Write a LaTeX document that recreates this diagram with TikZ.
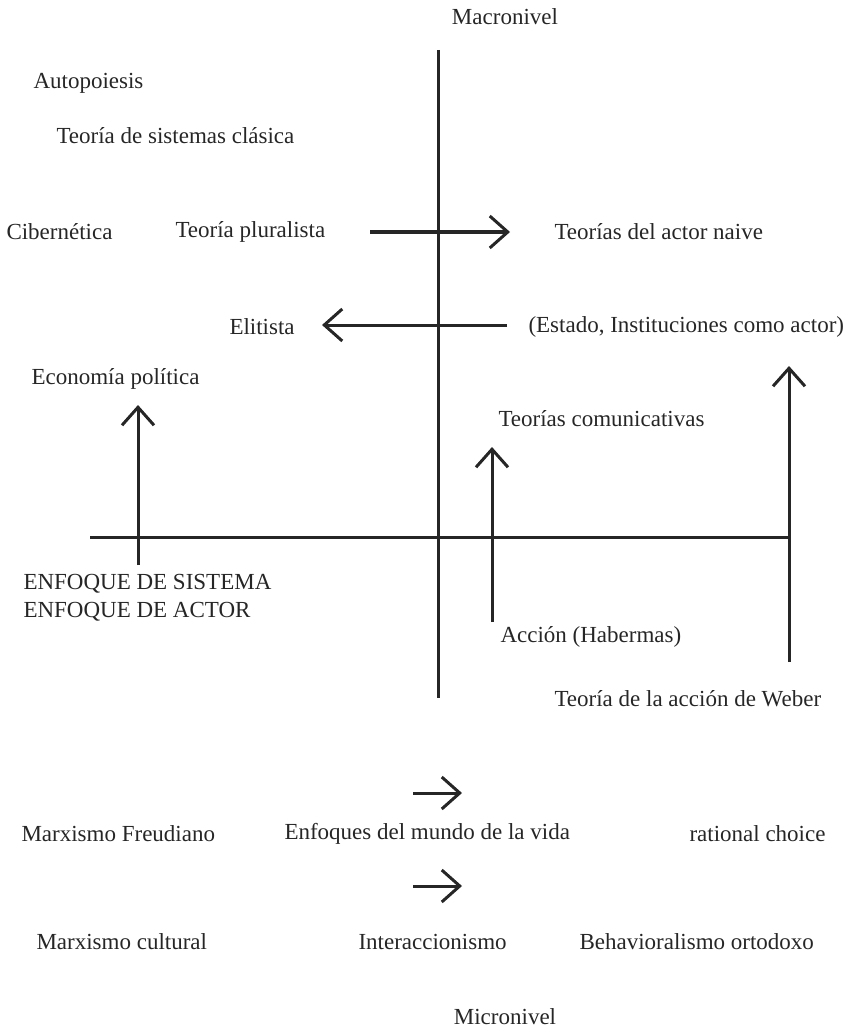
\documentclass[tikz,border=0pt]{standalone}
\usepackage{fontspec}
\setmainfont{Liberation Serif}
\usetikzlibrary{arrows.meta}
\begin{document}
\begin{tikzpicture}[x=1pt, y=-1pt, line width=3pt, color={black!85},
  label node/.style={anchor=west,inner sep=0pt,font=\fontsize{23}{27}\selectfont},
  mid node/.style={label node,anchor=center},
  arrow line/.style={-{Straight Barb[length=18pt,width=32pt]}}]
\useasboundingbox (0,0) rectangle (855,1032);
% axes
\coordinate (ntop) at (438,50);
\coordinate (nbot) at (438,698);
\coordinate (wleft) at (90,537);
\coordinate (wright) at (791,537);
\draw (ntop) -- (nbot);
\draw (wleft) -- (wright);
\begin{scope}[every node/.style={label node}]
\node [mid node](macro) at (505,17) {Macronivel};
\node (autop) at (32,83) {Autopoiesis};
\node (clasica) at (55,136) {Teoría de sistemas clásica};
\node (ciber) at (5,232) {Cibernética};
\node (plural) at (174,232) {Teoría pluralista};
\node (naive) at (553,232) {Teorías del actor naive};
\node (elit) at (228,327) {Elitista};
\node (estado) at (527,327) {(Estado, Instituciones como actor)};
\node (econ) at (30,379) {Economía política};
\node (comun) at (497,419) {Teorías comunicativas};
\node (sist) at (22,584) {ENFOQUE DE SISTEMA};
\node (actor) at (22,612) {ENFOQUE DE ACTOR};
\node (haber) at (499,637) {Acción (Habermas)};
\node (weber) at (553,699) {Teoría de la acción de Weber};
\node (freud) at (20,834) {Marxismo Freudiano};
\node (mundo) at (283,834) {Enfoques del mundo de la vida};
\node (rational) at (688,834) {rational choice};
\node (cultural) at (35,942) {Marxismo cultural};
\node (inter) at (357,942) {Interaccionismo};
\node (behav) at (578,942) {Behavioralismo ortodoxo};
\node [mid node](micro) at (505,1017) {Micronivel};
\end{scope}
% arrows
\coordinate (a1s) at (370,232);
\coordinate (a1e) at (510,232);
\coordinate (a2s) at (507,325);
\coordinate (a2e) at (322,325);
\coordinate (a3s) at (138,565);
\coordinate (a3e) at (138,405);
\coordinate (a4s) at (492,622);
\coordinate (a4e) at (492,447);
\coordinate (a5s) at (789,662);
\coordinate (a5e) at (789,366);
\coordinate (a6s) at (413,793);
\coordinate (a6e) at (462,793);
\coordinate (a7s) at (413,886);
\coordinate (a7e) at (462,886);
\path [arrow line]
  (a1s) edge (a1e)
  (a2s) edge (a2e)
  (a3s) edge (a3e)
  (a4s) edge (a4e)
  (a5s) edge (a5e)
  (a6s) edge (a6e)
  (a7s) edge (a7e)
      ;
\end{tikzpicture}
\end{document}
